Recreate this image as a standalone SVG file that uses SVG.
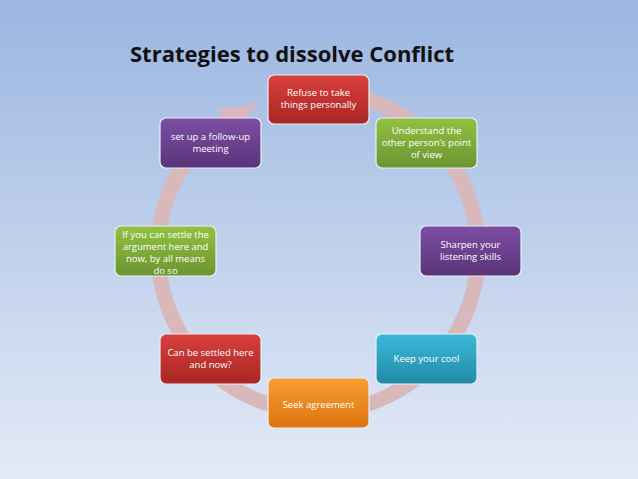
<svg xmlns="http://www.w3.org/2000/svg" width="638" height="479" viewBox="0 0 638 479">
<defs>
<linearGradient id="bg" x1="0" y1="0" x2="0" y2="1"><stop offset="0" stop-color="#9bb6e1"/><stop offset="1" stop-color="#e3eaf6"/></linearGradient>
<linearGradient id="red" x1="0" y1="0" x2="0" y2="1"><stop offset="0" stop-color="#d9403d"/><stop offset="1" stop-color="#a82624"/></linearGradient>
<linearGradient id="green" x1="0" y1="0" x2="0" y2="1"><stop offset="0" stop-color="#92c242"/><stop offset="1" stop-color="#6a9530"/></linearGradient>
<linearGradient id="purple" x1="0" y1="0" x2="0" y2="1"><stop offset="0" stop-color="#7d4ea3"/><stop offset="1" stop-color="#5a3479"/></linearGradient>
<linearGradient id="teal" x1="0" y1="0" x2="0" y2="1"><stop offset="0" stop-color="#3bbad8"/><stop offset="1" stop-color="#228aa8"/></linearGradient>
<linearGradient id="orange" x1="0" y1="0" x2="0" y2="1"><stop offset="0" stop-color="#f89d33"/><stop offset="1" stop-color="#dd7410"/></linearGradient>
<style>
.box{stroke:#e8eef8;stroke-width:1.2}
.t{font-family:"Open Sans","Liberation Sans",sans-serif;font-size:9.5px;fill:#fff;text-anchor:middle}
</style>
</defs>
<rect width="638" height="479" fill="url(#bg)"/>
<text x="130" y="62" font-family="Open Sans, Liberation Sans, sans-serif" font-weight="bold" font-size="22" fill="#111">Strategies to  dissolve Conflict</text>
<g id="connectors">
<path d="M345.8 94.4 A160 160 0 1 1 226.2 121" fill="none" stroke="#d8b8bb" stroke-width="15"/>
<path d="M345.8 94.4 A160 160 0 1 1 226.2 121" fill="none" stroke="#c9a5a8" stroke-width="1" transform="translate(0,0)" opacity="0"/>
<polygon points="218.2,109.5 258.1,103.7 234.3,132.4" fill="#d8b8bb"/>
</g>
<g id="n1"><rect class="box" x="268" y="75" width="101" height="49" rx="6" fill="url(#red)"/><text class="t" x="318.5" y="96">Refuse to take</text><text class="t" x="318.5" y="108">things personally</text></g>
<g id="n2"><rect class="box" x="376" y="118" width="101" height="50" rx="6" fill="url(#green)"/><text class="t" x="426.5" y="134">Understand the</text><text class="t" x="426.5" y="146">other person’s point</text><text class="t" x="426.5" y="158">of view</text></g>
<g id="n3"><rect class="box" x="420" y="226" width="101" height="50" rx="6" fill="url(#purple)"/><text class="t" x="470.5" y="248">Sharpen your</text><text class="t" x="470.5" y="260">listening skills</text></g>
<g id="n4"><rect class="box" x="376" y="334" width="101" height="50" rx="6" fill="url(#teal)"/><text class="t" x="426.5" y="362">Keep your cool</text></g>
<g id="n5"><rect class="box" x="268" y="378" width="101" height="50" rx="6" fill="url(#orange)"/><text class="t" x="318.5" y="408">Seek agreement</text></g>
<g id="n6"><rect class="box" x="160" y="334" width="101" height="50" rx="6" fill="url(#red)"/><text class="t" x="210.5" y="356">Can be settled here</text><text class="t" x="210.5" y="368">and now?</text></g>
<g id="n7"><rect class="box" x="115" y="226" width="101" height="50" rx="6" fill="url(#green)"/><text class="t" x="165.5" y="238">If you can settle the</text><text class="t" x="165.5" y="250">argument here and</text><text class="t" x="165.5" y="262">now, by all means</text><text class="t" x="165.5" y="274">do so</text></g>
<g id="n8"><rect class="box" x="160" y="118" width="101" height="50" rx="6" fill="url(#purple)"/><text class="t" x="210.5" y="140">set up a follow-up</text><text class="t" x="210.5" y="152">meeting</text></g>
</svg>
